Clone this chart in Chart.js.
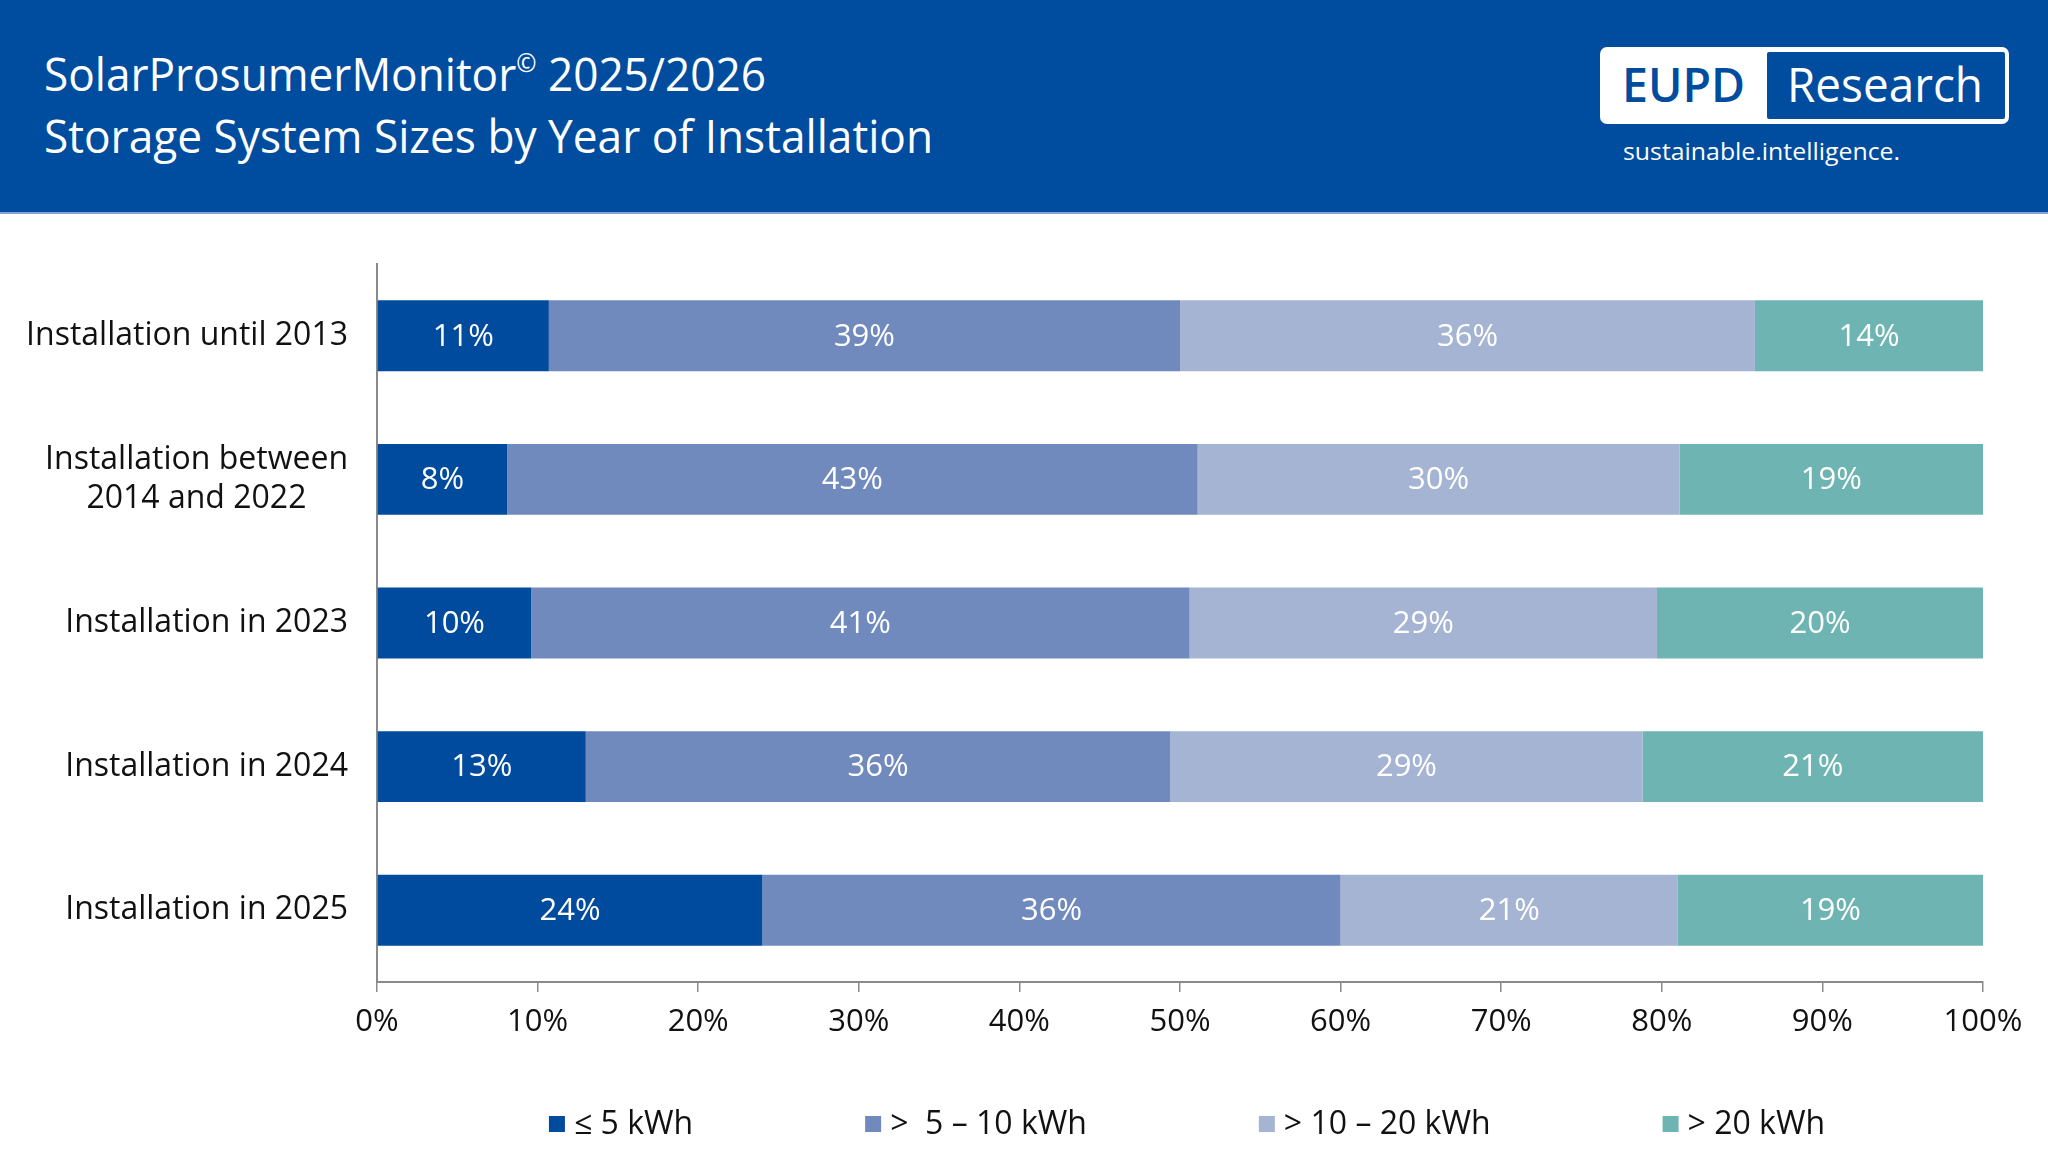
<!DOCTYPE html>
<html lang="en">
<head>
<meta charset="UTF-8">
<title>Storage System Sizes by Year of Installation</title>
<script src="https://cdn.jsdelivr.net/npm/chart.js@4.4.1/dist/chart.umd.min.js"></script>
<style>
  html, body { margin: 0; padding: 0; background: #fff; }
  body { width: 2048px; height: 1163px; position: relative; overflow: hidden; font-family: "Open Sans", sans-serif; }
  #header { position: absolute; left: 0; top: 0; width: 2048px; height: 212px; background: #004c9e; border-bottom: 2px solid #7ea3d4; z-index: 2; }
  .fit { position: absolute; white-space: nowrap; transform-origin: 0 0; line-height: 1; color: #fff; }
  .fit sup { font-size: 0.55em; vertical-align: 0.75em; line-height: 0; }
  #t1 { left: 44px; top: 50px; font-size: 46px; }
  #t2 { left: 44px; top: 112px; font-size: 46px; }
  #logoBox { position: absolute; left: 1600px; top: 47px; width: 409px; height: 77px; background: #fff; border-radius: 7px; }
  #logoInner { position: absolute; left: 1767px; top: 52px; width: 238px; height: 67px; background: #004c9e; border-radius: 2px; }
  #eupd { left: 1622px; top: 61px; font-size: 47px; font-weight: 600; color: #004c9e; }
  #research { left: 1787px; top: 61px; font-size: 47px; }
  #tagline { left: 1623px; top: 139px; font-size: 24px; }
  #wrap { position: absolute; left: 0; top: 0; width: 2048px; height: 1163px; z-index: 1; }
</style>
</head>
<body>

<div id="header">
  <div class="fit" id="t1" data-w="722">SolarProsumerMonitor<sup>©</sup> 2025/2026</div>
  <div class="fit" id="t2" data-w="889">Storage System Sizes by Year of Installation</div>
  <div id="logoBox"></div>
  <div id="logoInner"></div>
  <div class="fit" id="eupd" data-w="123">EUPD</div>
  <div class="fit" id="research" data-w="196">Research</div>
  <div class="fit" id="tagline" data-w="277">sustainable.intelligence.</div>
</div>

<div id="wrap"><canvas id="chart" width="2048" height="1163"></canvas></div>

<script>
  // data (shares in %)
  const categories = [
    'Installation until 2013',
    ['Installation between', '2014 and 2022'],
    'Installation in 2023',
    'Installation in 2024',
    'Installation in 2025'
  ];
  const seriesNames = ['≤ 5 kWh', '>  5 – 10 kWh', '> 10 – 20 kWh', '> 20 kWh'];
  const upTo5 = [10.7, 8.1, 9.6, 13.0, 24.0];
  const from5to10 = [39.3, 43.0, 41.0, 36.4, 36.0];
  const from10to20 = [35.8, 30.0, 29.1, 29.4, 21.0];
  const over20 = [14.2, 18.9, 20.3, 21.2, 19.0];
  const seriesColors = ['#004b9d', '#718abd', '#a5b4d3', '#6eb4b2'];

  const FONT = '"Open Sans", sans-serif';
  const TEXT = '#111111';
  const AXIS = '#8a8a8a';

  // squeeze header texts to the reference widths
  document.querySelectorAll('.fit').forEach(el => {
    const w = el.getBoundingClientRect().width;
    el.style.transform = 'scaleX(' + (el.dataset.w / w) + ')';
  });

  // centre the lines of a multi-line category label on each other
  const measureCtx = document.createElement('canvas').getContext('2d');
  measureCtx.font = '32px ' + FONT;
  function centreLines(lines) {
    const widths = lines.map(l => measureCtx.measureText(l).width);
    const max = Math.max(...widths);
    const sp = measureCtx.measureText(' ').width;
    return lines.map((l, i) => l + ' '.repeat(Math.round((max - widths[i]) / 2 / sp)));
  }

  // percentage labels inside the bars
  const barLabels = {
    id: 'barLabels',
    afterDatasetsDraw(chart) {
      const ctx = chart.ctx;
      ctx.save();
      ctx.font = '31px ' + FONT;
      ctx.fillStyle = '#ffffff';
      ctx.textAlign = 'center';
      ctx.textBaseline = 'middle';
      chart.data.datasets.forEach((ds, i) => {
        chart.getDatasetMeta(i).data.forEach((bar, j) => {
          ctx.fillText(Math.round(ds.data[j]) + '%', (bar.x + bar.base) / 2, bar.y + 1);
        });
      });
      ctx.restore();
    }
  };

  // legend row at the bottom with wide gaps between items
  const bottomLegend = {
    id: 'bottomLegend',
    afterDraw(chart) {
      const ctx = chart.ctx;
      const box = 16, textGap = 9, itemGap = 172, y = 1124;
      ctx.save();
      ctx.font = '32px ' + FONT;
      ctx.textBaseline = 'middle';
      const items = chart.data.datasets.map(ds => ({
        text: ds.label, color: ds.backgroundColor, w: ctx.measureText(ds.label).width
      }));
      const total = items.reduce((s, it) => s + box + textGap + it.w, 0) + itemGap * (items.length - 1);
      let x = (chart.chartArea.left + chart.chartArea.right) / 2 + 7 - total / 2;
      items.forEach(it => {
        ctx.fillStyle = it.color;
        ctx.fillRect(x, y - box / 2, box, box);
        ctx.fillStyle = TEXT;
        ctx.fillText(it.text, x + box + textGap, y + 1);
        x += box + textGap + it.w + itemGap;
      });
      ctx.restore();
    }
  };

  const seriesData = [upTo5, from5to10, from10to20, over20];

  new Chart(document.getElementById('chart'), {
    type: 'bar',
    data: {
      labels: categories,
      datasets: seriesData.map((d, i) => ({
        label: seriesNames[i],
        data: d,
        backgroundColor: seriesColors[i],
        borderWidth: 0,
        barPercentage: 0.494,
        categoryPercentage: 1
      }))
    },
    options: {
      indexAxis: 'y',
      responsive: false,
      animation: false,
      layout: { padding: { top: 264, right: 65, bottom: 121, left: 0 } },
      plugins: {
        legend: { display: false },
        tooltip: { enabled: false }
      },
      scales: {
        x: {
          stacked: true,
          min: 0,
          max: 100,
          ticks: {
            stepSize: 10,
            padding: 12,
            color: TEXT,
            font: { family: FONT, size: 31 },
            callback: v => v + '%'
          },
          grid: { display: true, drawOnChartArea: false, drawTicks: true, tickLength: 10, color: AXIS, lineWidth: 1.5 },
          border: { display: true, color: AXIS, width: 2 },
          afterFit(scale) {
            scale.height = 60;
            scale.paddingLeft = 0;
            scale.paddingRight = 0;
          }
        },
        y: {
          stacked: true,
          ticks: {
            padding: 21,
            color: TEXT,
            font: { family: FONT, size: 32, lineHeight: 1.2 },
            callback(value) {
              const lbl = this.getLabelForValue(value);
              return Array.isArray(lbl) ? centreLines(lbl) : lbl;
            }
          },
          grid: { display: false },
          border: { display: true, color: AXIS, width: 2 },
          afterFit(scale) {
            scale.width = 377;
            scale.paddingTop = 0;
            scale.paddingBottom = 0;
          }
        }
      }
    },
    plugins: [barLabels, bottomLegend]
  });
</script>
</body>
</html>
